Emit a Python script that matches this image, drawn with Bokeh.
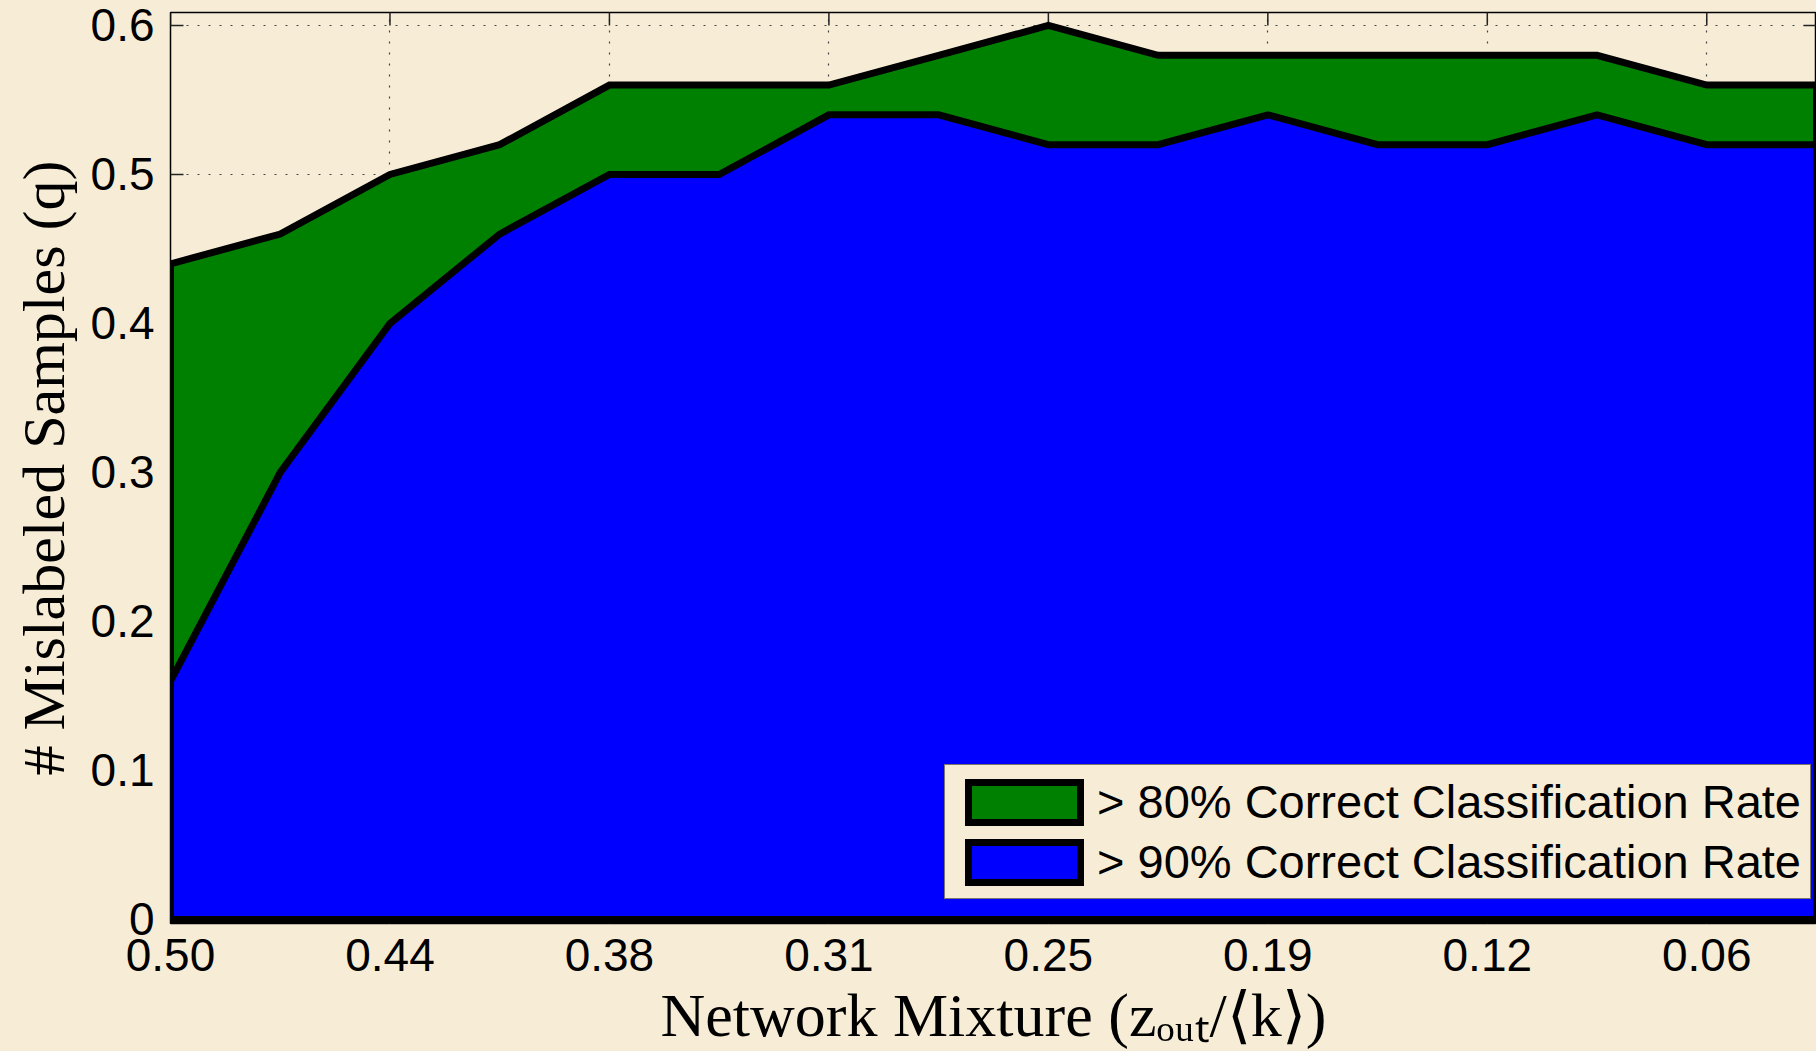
from math import pi
from bokeh.plotting import figure
from bokeh.models import Range1d, FixedTicker, Legend, LegendItem
from bokeh.embed import file_html
from bokeh.resources import INLINE

# ---------------- data ----------------
x_vals = [0.5, 0.46875, 0.4375, 0.40625, 0.375, 0.34375, 0.3125, 0.28125,
          0.25, 0.21875, 0.1875, 0.15625, 0.125, 0.09375, 0.0625, 0.03125]
green_top = [0.44, 0.46, 0.50, 0.52, 0.56, 0.56, 0.56, 0.58,
             0.60, 0.58, 0.58, 0.58, 0.58, 0.58, 0.56, 0.56]
blue_top = [0.16, 0.30, 0.40, 0.46, 0.50, 0.50, 0.54, 0.54,
            0.52, 0.52, 0.54, 0.52, 0.52, 0.54, 0.52, 0.52]
series_names = ["> 80% Correct Classification Rate",
                "> 90% Correct Classification Rate"]
x_ticks = [0.5, 0.4375, 0.375, 0.3125, 0.25, 0.1875, 0.125, 0.0625]
x_tick_labels = ["0.50", "0.44", "0.38", "0.31", "0.25", "0.19", "0.12", "0.06"]
y_ticks = [0, 0.1, 0.2, 0.3, 0.4, 0.5, 0.6]
y_tick_labels = ["0", "0.1", "0.2", "0.3", "0.4", "0.5", "0.6"]
x_label = "Network Mixture (z\u2092\u1d64\u209c/\u27e8k\u27e9)"
y_label = "# Mislabeled Samples (q)"

# ---------------- style ----------------
BG = "#F7EDD7"
GREEN = "#008000"
BLUE = "#0000FF"
SANS = "Liberation Sans"
SERIF = "Liberation Serif"
TICK_FS = "46px"
X0, X1 = 0.5, 0.03125          # x range (reversed)
Y0, Y1 = -0.0027, 0.6087       # y range
TICK_COLOR = "#222222"

p = figure(width=1816, height=1051, output_backend="svg", toolbar_location=None,
           x_range=Range1d(X0, X1), y_range=Range1d(Y0, Y1),
           x_axis_label=x_label, y_axis_label=y_label,
           min_border_left=170, min_border_right=0, min_border_top=12,
           min_border_bottom=128)
p.background_fill_color = BG
p.border_fill_color = BG
p.outline_line_color = "black"
p.outline_line_width = 1.5

# grid
for grid in (p.xgrid, p.ygrid):
    grid.grid_line_color = "#444444"
    grid.grid_line_dash = "2 9"
    grid.grid_line_width = 1.2

# inward box ticks (drawn before the areas so the areas cover them)
tick_style = dict(marker="dash", size=26, line_color=TICK_COLOR, line_width=1.5)
p.scatter(x=x_ticks, y=[Y1] * len(x_ticks), angle=pi / 2, **tick_style)
p.scatter(x=[X0] * len(y_ticks), y=y_ticks, **tick_style)
p.scatter(x=[X1] * len(y_ticks), y=y_ticks, **tick_style)

# areas: green first (behind), blue over it
base_x = [x_vals[-1], x_vals[0]]
g = p.patch(x_vals + base_x, green_top + [0, 0], fill_color=GREEN,
            line_color="black", line_width=7, line_join="miter")
b = p.patch(x_vals + base_x, blue_top + [0, 0], fill_color=BLUE,
            line_color="black", line_width=7, line_join="miter")

# bottom axis
xa = p.xaxis[0]
xa.ticker = FixedTicker(ticks=x_ticks)
xa.major_label_overrides = dict(zip(x_ticks, x_tick_labels))
xa.major_tick_in = 0
xa.major_tick_out = 0
xa.minor_tick_line_color = None
xa.axis_line_color = None
xa.major_label_standoff = 15
xa.major_label_text_font = SANS
xa.major_label_text_font_size = TICK_FS
xa.major_label_text_color = "black"
xa.axis_label_text_font = SERIF
xa.axis_label_text_font_size = "62px"
xa.axis_label_text_font_style = "normal"
xa.axis_label_text_color = "black"
xa.axis_label_standoff = 7

# left axis
ya = p.yaxis[0]
ya.ticker = FixedTicker(ticks=y_ticks)
ya.major_label_overrides = dict(zip(y_ticks, y_tick_labels))
ya.major_tick_in = 0
ya.major_tick_out = 0
ya.minor_tick_line_color = None
ya.axis_line_color = None
ya.major_label_standoff = 16
ya.major_label_text_font = SANS
ya.major_label_text_font_size = TICK_FS
ya.major_label_text_color = "black"
ya.axis_label_text_font = SERIF
ya.axis_label_text_font_size = "60px"
ya.axis_label_text_font_style = "normal"
ya.axis_label_text_color = "black"
ya.axis_label_standoff = 11

# legend
legend = Legend(items=[LegendItem(label=series_names[0], renderers=[g]),
                       LegendItem(label=series_names[1], renderers=[b])],
                location=(774, 24), orientation="vertical",
                glyph_width=140, glyph_height=50, label_standoff=3,
                spacing=5, padding=9, margin=0,
                label_text_font=SANS, label_text_font_size="47px",
                label_text_color="black",
                border_line_color="black", border_line_width=1.5,
                background_fill_color=BG, background_fill_alpha=1.0)
p.add_layout(legend)

html = file_html(p, INLINE)
html = html.replace("<body>", '<body style="background-color:%s;">' % BG)
open("out.html", "w").write(html)
